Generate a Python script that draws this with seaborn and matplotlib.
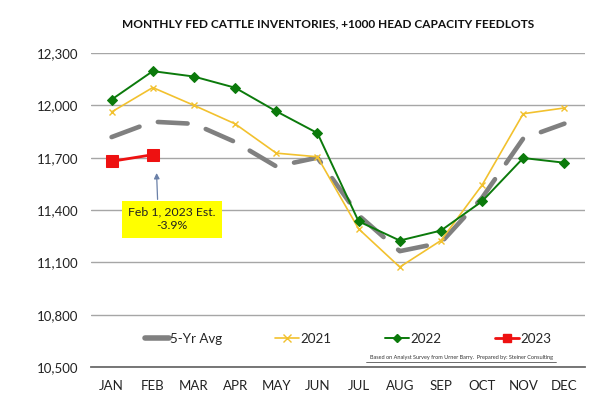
import matplotlib
matplotlib.use("Agg")
import matplotlib.pyplot as plt
import seaborn as sns
import pandas as pd
from matplotlib.lines import Line2D
from matplotlib.ticker import FuncFormatter, FixedLocator

months = ["JAN", "FEB", "MAR", "APR", "MAY", "JUN", "JUL", "AUG", "SEP", "OCT", "NOV", "DEC"]
avg5 = [11818, 11906, 11894, 11790, 11650, 11700, 11370, 11164, 11212, 11470, 11810, 11895]
y2021 = [11962, 12102, 12000, 11894, 11726, 11705, 11292, 11073, 11225, 11543, 11952, 11985]
y2022 = [12033, 12196, 12165, 12101, 11966, 11841, 11335, 11225, 11282, 11450, 11698, 11671]
y2023 = [11679, 11717]
months2023 = months[:2]
yticks = [10500, 10800, 11100, 11400, 11700, 12000, 12300]

sns.set_style("white")
FONT = ["Lato", "DejaVu Sans"]
plt.rcParams["font.family"] = FONT

fig = plt.figure(figsize=(6, 4.12), dpi=100)
ax = fig.add_axes([91/600, 1-367/412, 494/600, 314/412])

c_avg = "#808080"
c21 = "#F2C12E"
c22 = "#0B7A0B"
c23 = "#EE1111"

df_avg = pd.DataFrame({"m": months, "v": avg5})
df21 = pd.DataFrame({"m": months, "v": y2021})
df22 = pd.DataFrame({"m": months, "v": y2022})
df23 = pd.DataFrame({"m": months2023, "v": y2023})

sns.lineplot(data=df_avg, x="m", y="v", ax=ax, color=c_avg, lw=3.3, sort=False, zorder=2)
ax.lines[-1].set_dashes((6.5, 4.2))
ax.lines[-1].set_dash_capstyle("round")
sns.lineplot(data=df21, x="m", y="v", ax=ax, color=c21, lw=1.2, marker="x", ms=5,
             mew=1.0, mec=c21, sort=False, zorder=3)
sns.lineplot(data=df22, x="m", y="v", ax=ax, color=c22, lw=1.4, marker="D", ms=5,
             mec=c22, sort=False, zorder=4)
sns.lineplot(data=df23, x="m", y="v", ax=ax, color=c23, lw=2, marker="s", ms=9,
             mec=c23, sort=False, zorder=5)

ax.set_xlim(-0.5, 11.5)
ax.set_ylim(10500, 12300)
ax.set_yticks(yticks)
ax.yaxis.set_major_formatter(FuncFormatter(lambda v, p: f"{int(v):,}"))
ax.grid(axis="y", color="#a6a6a6", lw=1)
ax.set_axisbelow(True)
ax.set_xlabel("")
ax.set_ylabel("")
for s in ["top", "right", "left"]:
    ax.spines[s].set_visible(False)
ax.spines["bottom"].set_color("#6b6b6b")
ax.spines["bottom"].set_linewidth(1.3)
ax.tick_params(axis="y", length=0, pad=9, labelsize=9.5, labelcolor="#222222")
ax.tick_params(axis="x", which="major", length=0, pad=9, labelsize=9.5, labelcolor="#222222")
ax.xaxis.set_minor_locator(FixedLocator([i - 0.5 for i in range(13)]))
ax.tick_params(axis="x", which="minor", length=5, direction="inout", color="#6b6b6b", width=1.2)

# annotation
ax.annotate("", xy=(1.09, 11628), xytext=(1.12, 11445),
            arrowprops=dict(arrowstyle="-|>", color="#6a80a8", lw=0.9, mutation_scale=8))
ax.text(1.46, 11348, "Feb 1, 2023 Est.\n-3.9%", ha="center", va="center", fontsize=8.8,
        color="#222222", linespacing=1.3,
        bbox=dict(boxstyle="square,pad=0.5", fc="#FFFF00", ec="none"))

handles = [
    Line2D([], [], color=c_avg, lw=4, solid_capstyle="round"),
    Line2D([], [], color=c21, lw=1.2, marker="x", ms=6, mew=1.0),
    Line2D([], [], color=c22, lw=1.4, marker="D", ms=4.5),
    Line2D([], [], color=c23, lw=2, marker="s", ms=6),
]
ax.legend(handles, ["5-Yr Avg", "2021", "2022", "2023"], loc="center",
          bbox_to_anchor=(0.52, 0.089), ncol=4, frameon=False, fontsize=9.6,
          handlelength=1.8, handletextpad=0.1, columnspacing=4.0)

fig.text(328/600, 1-24/412, "MONTHLY FED CATTLE INVENTORIES, +1000 HEAD CAPACITY FEEDLOTS",
         ha="center", va="center", fontsize=8.6, fontweight="bold", color="#111111")
fig.text(461/600, 1-358/412,
         "Based on Analyst Survey from Urner Barry.  Prepared by: Steiner Consulting",
         ha="center", va="center", fontsize=4.0, color="#333333")
fig.add_artist(Line2D([366/600, 556/600], [1-362/412, 1-362/412], color="#333333", lw=0.5))

fig.savefig("out.png", dpi=100)
